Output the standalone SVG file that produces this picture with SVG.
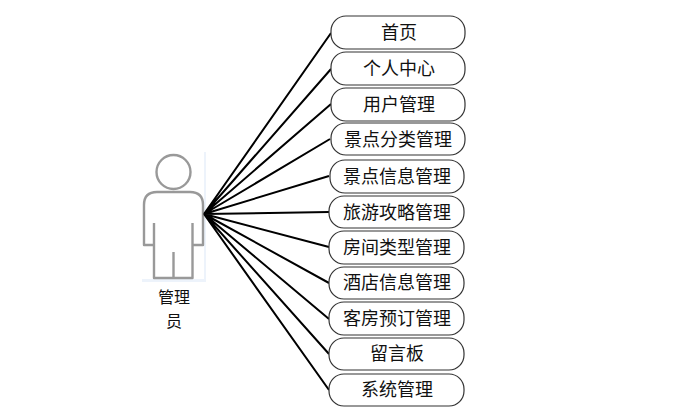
<svg xmlns="http://www.w3.org/2000/svg" width="689" height="411" viewBox="0 0 689 411">
<style>
.n{fill:#fff;stroke:#333;stroke-width:1.2}
.t{font-family:"Noto Sans CJK SC","Liberation Serif",serif;font-size:18px;fill:#111;text-anchor:middle}
.l{font-size:16px}
.c{stroke:#000;stroke-width:2;fill:none}
.a{fill:none;stroke:#999;stroke-width:2.4;stroke-linejoin:round}
</style>
<rect width="689" height="411" fill="#fff"/>
<g id="actor">
<rect x="142" y="152" width="64" height="130" fill="#edf3fb"/>
<rect x="142" y="152" width="62" height="127" fill="#fff"/>
<circle cx="173.500" cy="172" r="17" class="a"/>
<path class="a" d="M154 245H144V205Q144 192 157 192H190Q203 192 203 205V245H193M154 223V278H192.500V223M173.500 252V278"/>
<text class="t l" x="174" y="303">管理</text>
<text class="t l" x="174" y="326.500">员</text>
</g>
<g id="connectors">
<path class="c" d="M204 214L331 33M204 214L331 69M204 214L331 104M204 214L330 139M204 214L329 176M204 214L329 212M204 214L329 247M204 214L329 283M204 214L329 319M204 214L329 354M204 214L329 390"/>
</g>
<g id="n1"><rect class="n" x="331" y="16" width="134" height="33" rx="15"/><text class="t" x="399" y="38.500">首页</text></g>
<g id="n2"><rect class="n" x="331" y="52" width="134" height="33" rx="15"/><text class="t" x="399" y="74.500">个人中心</text></g>
<g id="n3"><rect class="n" x="331" y="88" width="134" height="33" rx="15"/><text class="t" x="399" y="110.500">用户管理</text></g>
<g id="n4"><rect class="n" x="331" y="123" width="134" height="32" rx="15"/><text class="t" x="398" y="145.500">景点分类管理</text></g>
<g id="n5"><rect class="n" x="330" y="160" width="134" height="33" rx="15"/><text class="t" x="397" y="182.500">景点信息管理</text></g>
<g id="n6"><rect class="n" x="329" y="196" width="135" height="32" rx="15"/><text class="t" x="397" y="218.500">旅游攻略管理</text></g>
<g id="n7"><rect class="n" x="329" y="231" width="135" height="33" rx="15"/><text class="t" x="397" y="253.500">房间类型管理</text></g>
<g id="n8"><rect class="n" x="329" y="267" width="135" height="32" rx="15"/><text class="t" x="397" y="289">酒店信息管理</text></g>
<g id="n9"><rect class="n" x="329" y="302" width="135" height="33" rx="15"/><text class="t" x="397" y="325">客房预订管理</text></g>
<g id="n10"><rect class="n" x="329" y="338" width="135" height="32" rx="15"/><text class="t" x="397" y="360">留言板</text></g>
<g id="n11"><rect class="n" x="329" y="374" width="135" height="32" rx="15"/><text class="t" x="397" y="396">系统管理</text></g>
</svg>
